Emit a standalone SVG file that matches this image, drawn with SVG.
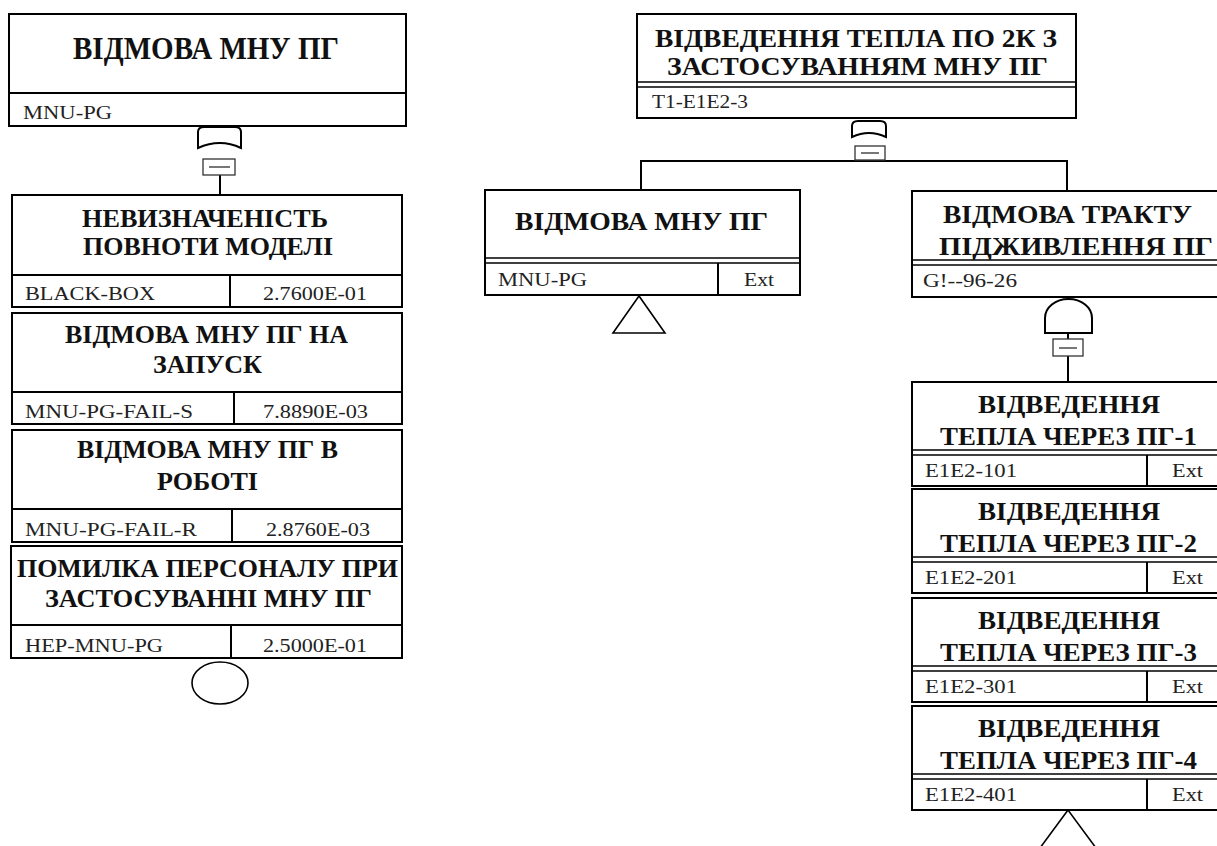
<svg xmlns="http://www.w3.org/2000/svg" width="1217" height="846" viewBox="0 0 1217 846">
<style>
.bg{fill:#fff}
.box{fill:#fff;stroke:#000;stroke-width:2}
.ln{fill:none;stroke:#000;stroke-width:2}
.dl{fill:none;stroke:#000;stroke-width:1.6}
.g{fill:#fff;stroke:#000;stroke-width:2}
.tr{fill:#fff;stroke:#000;stroke-width:1.6}
.dash{fill:none;stroke:#555;stroke-width:1.6}
.sm{fill:#fff;stroke:#333;stroke-width:1.3}
.t{font-family:"Liberation Serif","DejaVu Serif",serif;font-weight:bold;font-size:26px;fill:#111}
.t1{font-family:"Liberation Serif","DejaVu Serif",serif;font-weight:bold;font-size:31px;fill:#111}
.s{font-family:"Liberation Serif","DejaVu Serif",serif;font-size:19px;fill:#222}
</style>
<rect class="bg" x="0" y="0" width="1217" height="846"/>

<g id="connectors">
  <line class="ln" x1="220" y1="175" x2="220" y2="195"/>
  <path class="ln" d="M641,190 V161 H1067 V191"/>
  <line class="ln" x1="1068" y1="333" x2="1068" y2="339"/>
  <line class="ln" x1="1068" y1="356" x2="1068" y2="382"/>
</g>

<g id="n-mnu-pg-top">
  <rect class="box" x="9" y="14" width="397" height="112"/>
  <line class="ln" x1="9" y1="93" x2="406" y2="93"/>
  <text class="t1" x="73" y="59" textLength="266" lengthAdjust="spacingAndGlyphs">ВІДМОВА МНУ ПГ</text>
  <text class="s" x="23" y="119" textLength="89" lengthAdjust="spacingAndGlyphs">MNU-PG</text>
  <path class="g" d="M198,148 V132 Q198,127 204,127 H235 Q241,127 241,132 V148 Q220,138 198,148 Z"/>
  <rect class="sm" x="203" y="159" width="32" height="16"/>
  <line class="dash" x1="209" y1="167" x2="230" y2="167"/>
</g>

<g id="n-black-box">
  <rect class="box" x="12" y="195" width="390" height="112"/>
  <line class="ln" x1="12" y1="275" x2="402" y2="275"/>
  <line class="ln" x1="230" y1="275" x2="230" y2="307"/>
  <text class="t" x="82" y="227" textLength="246" lengthAdjust="spacingAndGlyphs">НЕВИЗНАЧЕНІСТЬ</text>
  <text class="t" x="83" y="255" textLength="250" lengthAdjust="spacingAndGlyphs">ПОВНОТИ МОДЕЛІ</text>
  <text class="s" x="25" y="300" textLength="130" lengthAdjust="spacingAndGlyphs">BLACK-BOX</text>
  <text class="s" x="263" y="300" textLength="104" lengthAdjust="spacingAndGlyphs">2.7600E-01</text>
</g>

<g id="n-fail-s">
  <rect class="box" x="12" y="313" width="390" height="111"/>
  <line class="ln" x1="12" y1="392" x2="402" y2="392"/>
  <line class="ln" x1="234" y1="392" x2="234" y2="424"/>
  <text class="t" x="65" y="343" textLength="283" lengthAdjust="spacingAndGlyphs">ВІДМОВА МНУ ПГ НА</text>
  <text class="t" x="153" y="373" textLength="109" lengthAdjust="spacingAndGlyphs">ЗАПУСК</text>
  <text class="s" x="25" y="418" textLength="168" lengthAdjust="spacingAndGlyphs">MNU-PG-FAIL-S</text>
  <text class="s" x="263" y="418" textLength="105" lengthAdjust="spacingAndGlyphs">7.8890E-03</text>
</g>

<g id="n-fail-r">
  <rect class="box" x="12" y="430" width="390" height="112"/>
  <line class="ln" x1="12" y1="509" x2="402" y2="509"/>
  <line class="ln" x1="232" y1="509" x2="232" y2="542"/>
  <text class="t" x="77" y="458" textLength="261" lengthAdjust="spacingAndGlyphs">ВІДМОВА МНУ ПГ В</text>
  <text class="t" x="157" y="490" textLength="101" lengthAdjust="spacingAndGlyphs">РОБОТІ</text>
  <text class="s" x="25" y="536" textLength="172" lengthAdjust="spacingAndGlyphs">MNU-PG-FAIL-R</text>
  <text class="s" x="266" y="536" textLength="104" lengthAdjust="spacingAndGlyphs">2.8760E-03</text>
</g>

<g id="n-hep">
  <rect class="box" x="11" y="546" width="391" height="112"/>
  <line class="ln" x1="11" y1="625" x2="402" y2="625"/>
  <line class="ln" x1="231" y1="625" x2="231" y2="658"/>
  <text class="t" x="17" y="577" textLength="381" lengthAdjust="spacingAndGlyphs">ПОМИЛКА ПЕРСОНАЛУ ПРИ</text>
  <text class="t" x="45" y="607" textLength="327" lengthAdjust="spacingAndGlyphs">ЗАСТОСУВАННІ МНУ ПГ</text>
  <text class="s" x="25" y="652" textLength="138" lengthAdjust="spacingAndGlyphs">HEP-MNU-PG</text>
  <text class="s" x="263" y="652" textLength="104" lengthAdjust="spacingAndGlyphs">2.5000E-01</text>
  <ellipse class="tr" cx="220" cy="683" rx="28" ry="21"/>
</g>

<g id="n-t1">
  <rect class="box" x="637" y="14" width="439" height="104"/>
  <line class="dl" x1="637" y1="82" x2="1076" y2="82"/>
  <line class="dl" x1="637" y1="87" x2="1076" y2="87"/>
  <text class="t" x="655" y="47" textLength="402" lengthAdjust="spacingAndGlyphs">ВІДВЕДЕННЯ ТЕПЛА ПО 2К З</text>
  <text class="t" x="667" y="75" textLength="381" lengthAdjust="spacingAndGlyphs">ЗАСТОСУВАННЯМ МНУ ПГ</text>
  <text class="s" x="652" y="108" textLength="96" lengthAdjust="spacingAndGlyphs">T1-E1E2-3</text>
  <path class="g" d="M852,137 V126 Q852,121 858,121 H880 Q886,121 886,126 V137 Q869,129 852,137 Z"/>
  <rect class="sm" x="855" y="146" width="30" height="14"/>
  <line class="dash" x1="861" y1="153" x2="879" y2="153"/>
</g>

<g id="n-mnu-pg-ext">
  <rect class="box" x="485" y="190" width="315" height="105"/>
  <line class="dl" x1="485" y1="258" x2="800" y2="258"/>
  <line class="dl" x1="485" y1="263" x2="800" y2="263"/>
  <line class="ln" x1="718" y1="263" x2="718" y2="295"/>
  <text class="t" x="515" y="230" textLength="253" lengthAdjust="spacingAndGlyphs">ВІДМОВА МНУ ПГ</text>
  <text class="s" x="498" y="286" textLength="89" lengthAdjust="spacingAndGlyphs">MNU-PG</text>
  <text class="s" x="744" y="286" textLength="30" lengthAdjust="spacingAndGlyphs">Ext</text>
  <polygon class="tr" points="639,296 613,333 665,333"/>
</g>

<g id="n-g96">
  <rect class="box" x="912" y="191" width="315" height="106"/>
  <line class="dl" x1="912" y1="260" x2="1227" y2="260"/>
  <line class="dl" x1="912" y1="265" x2="1227" y2="265"/>
  <text class="t" x="943" y="223" textLength="249" lengthAdjust="spacingAndGlyphs">ВІДМОВА ТРАКТУ</text>
  <text class="t" x="939" y="255" textLength="274" lengthAdjust="spacingAndGlyphs">ПІДЖИВЛЕННЯ ПГ</text>
  <text class="s" x="923" y="287" textLength="94" lengthAdjust="spacingAndGlyphs">G!--96-26</text>
  <path class="g" d="M1045,333 V318 A23.5,19 0 0 1 1092,318 V333 Z"/>
  <rect class="sm" x="1053" y="339" width="30" height="17"/>
  <line class="dash" x1="1059" y1="348" x2="1077" y2="348"/>
</g>

<g id="n-e1e2-101">
  <rect class="box" x="912" y="382" width="315" height="104"/>
  <line class="dl" x1="912" y1="450" x2="1227" y2="450"/>
  <line class="dl" x1="912" y1="455" x2="1227" y2="455"/>
  <line class="ln" x1="1147" y1="455" x2="1147" y2="486"/>
  <text class="t" x="978" y="413" textLength="182" lengthAdjust="spacingAndGlyphs">ВІДВЕДЕННЯ</text>
  <text class="t" x="940" y="445" textLength="257" lengthAdjust="spacingAndGlyphs">ТЕПЛА ЧЕРЕЗ ПГ-1</text>
  <text class="s" x="925" y="477" textLength="92" lengthAdjust="spacingAndGlyphs">E1E2-101</text>
  <text class="s" x="1172" y="477" textLength="31" lengthAdjust="spacingAndGlyphs">Ext</text>
</g>

<g id="n-e1e2-201">
  <rect class="box" x="912" y="489" width="315" height="104"/>
  <line class="dl" x1="912" y1="557" x2="1227" y2="557"/>
  <line class="dl" x1="912" y1="562" x2="1227" y2="562"/>
  <line class="ln" x1="1147" y1="562" x2="1147" y2="593"/>
  <text class="t" x="978" y="520" textLength="182" lengthAdjust="spacingAndGlyphs">ВІДВЕДЕННЯ</text>
  <text class="t" x="940" y="552" textLength="257" lengthAdjust="spacingAndGlyphs">ТЕПЛА ЧЕРЕЗ ПГ-2</text>
  <text class="s" x="925" y="584" textLength="92" lengthAdjust="spacingAndGlyphs">E1E2-201</text>
  <text class="s" x="1172" y="584" textLength="31" lengthAdjust="spacingAndGlyphs">Ext</text>
</g>

<g id="n-e1e2-301">
  <rect class="box" x="912" y="598" width="315" height="104"/>
  <line class="dl" x1="912" y1="666" x2="1227" y2="666"/>
  <line class="dl" x1="912" y1="671" x2="1227" y2="671"/>
  <line class="ln" x1="1147" y1="671" x2="1147" y2="702"/>
  <text class="t" x="978" y="629" textLength="182" lengthAdjust="spacingAndGlyphs">ВІДВЕДЕННЯ</text>
  <text class="t" x="940" y="661" textLength="257" lengthAdjust="spacingAndGlyphs">ТЕПЛА ЧЕРЕЗ ПГ-3</text>
  <text class="s" x="925" y="693" textLength="92" lengthAdjust="spacingAndGlyphs">E1E2-301</text>
  <text class="s" x="1172" y="693" textLength="31" lengthAdjust="spacingAndGlyphs">Ext</text>
</g>

<g id="n-e1e2-401">
  <rect class="box" x="912" y="706" width="315" height="104"/>
  <line class="dl" x1="912" y1="774" x2="1227" y2="774"/>
  <line class="dl" x1="912" y1="779" x2="1227" y2="779"/>
  <line class="ln" x1="1147" y1="779" x2="1147" y2="810"/>
  <text class="t" x="978" y="737" textLength="182" lengthAdjust="spacingAndGlyphs">ВІДВЕДЕННЯ</text>
  <text class="t" x="940" y="769" textLength="257" lengthAdjust="spacingAndGlyphs">ТЕПЛА ЧЕРЕЗ ПГ-4</text>
  <text class="s" x="925" y="801" textLength="92" lengthAdjust="spacingAndGlyphs">E1E2-401</text>
  <text class="s" x="1172" y="801" textLength="31" lengthAdjust="spacingAndGlyphs">Ext</text>
  <polygon class="tr" points="1068,810 1040,848 1096,848"/>
</g>
</svg>
